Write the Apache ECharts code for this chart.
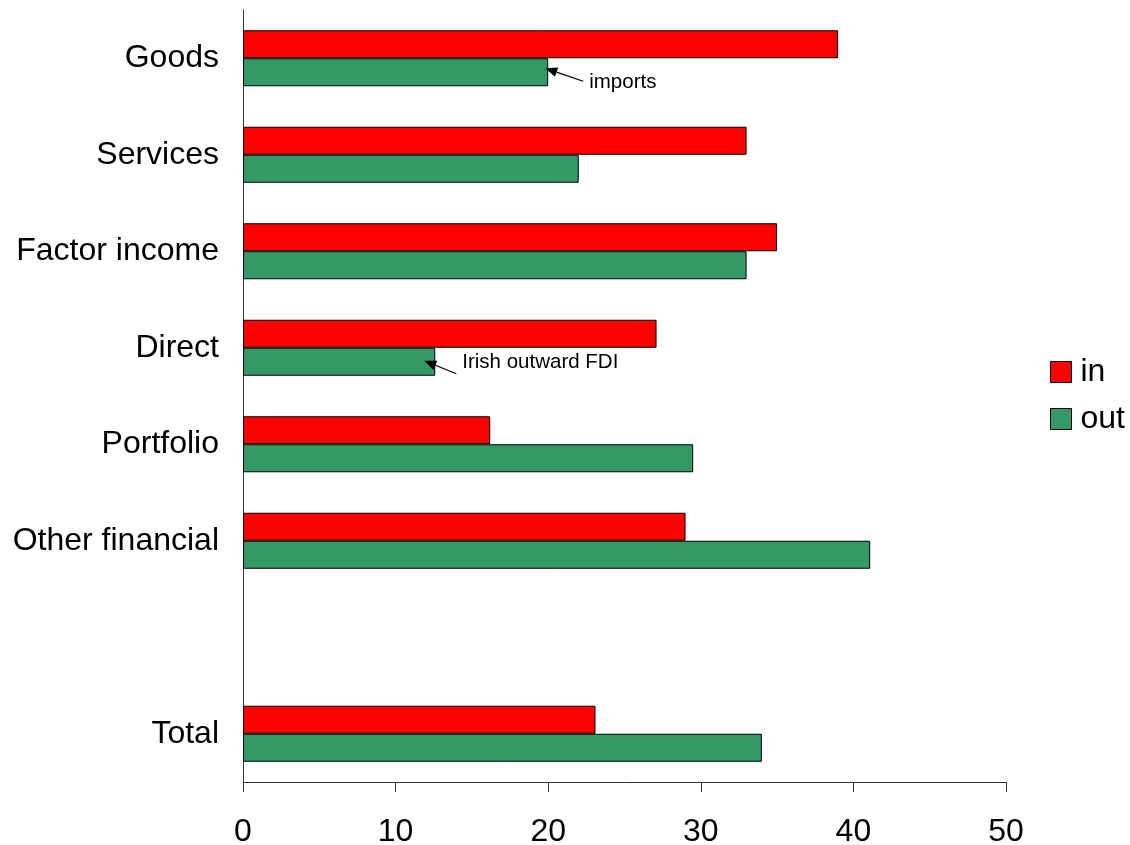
<!DOCTYPE html>
<html>
<head>
<meta charset="utf-8">
<script src="https://cdn.jsdelivr.net/npm/echarts@6/dist/echarts.min.js"></script>
<style>
  html, body { margin: 0; padding: 0; background: #fff; }
  #chart { width: 1130px; height: 845px; }
</style>
</head>
<body>
<div id="chart"></div>
<script>
// Categories, top to bottom; the empty entry leaves a gap before the total
const categories = ['Goods', 'Services', 'Factor income', 'Direct', 'Portfolio', 'Other financial', '', 'Total'];
const inValues  = [39.0, 33.0, 35.0, 27.1, 16.2, 29.0, '-', 23.1];
const outValues = [20.0, 22.0, 33.0, 12.6, 29.5, 41.1, '-', 34.0];
const xTicks = { min: 0, max: 50, interval: 10 };

// Callouts pointing at the end of an "out" bar
const noteCategories = ['Goods', 'Direct'];
const noteTexts = ['imports', 'Irish outward FDI'];

// Arrow geometry for each callout, in pixels relative to the bar end
const noteLayout = [
  { inset: 3,  dyTip: -4, dx: 38, dy: 13, textDy: 1 },
  { inset: 11, dyTip: -1, dx: 32, dy: 13, textDy: -11 }
];

const FONT = '"Liberation Sans", Arial, Helvetica, sans-serif';

const chart = echarts.init(document.getElementById('chart'), null, { renderer: 'canvas' });

chart.setOption({
  animation: false,
  backgroundColor: '#ffffff',
  textStyle: { fontFamily: FONT },
  grid: { left: 243, right: 124, top: 10, bottom: 63, containLabel: false, outerBoundsMode: 'none' },
  legend: {
    orient: 'vertical',
    left: 1050,
    top: 356,
    padding: 0,
    itemWidth: 21,
    itemHeight: 21,
    itemGap: 15,
    icon: 'rect',
    itemStyle: { borderColor: '#000', borderWidth: 1 },
    textStyle: { fontSize: 32, color: '#000', fontFamily: FONT, padding: [0, 0, 0, 4] },
    data: ['in', 'out']
  },
  xAxis: {
    type: 'value',
    min: xTicks.min,
    max: xTicks.max,
    interval: xTicks.interval,
    axisLine: { show: true, lineStyle: { color: '#333', width: 1 } },
    axisTick: { show: true, inside: false, length: 10, lineStyle: { color: '#333' } },
    axisLabel: { fontSize: 32, color: '#000', margin: 34, fontFamily: FONT },
    splitLine: { show: false }
  },
  yAxis: {
    type: 'category',
    inverse: true,
    data: categories,
    axisLine: { show: true, lineStyle: { color: '#333', width: 1 } },
    axisTick: { show: false },
    axisLabel: { fontSize: 32, color: '#000', margin: 24, fontFamily: FONT, padding: [4, 0, 0, 0] }
  },
  series: [
    {
      name: 'in',
      type: 'bar',
      data: inValues,
      barWidth: 28,
      barGap: '0%',
      itemStyle: { color: '#ff0000', borderColor: '#000', borderWidth: 1 }
    },
    {
      name: 'out',
      type: 'bar',
      data: outValues,
      barWidth: 28,
      barGap: '0%',
      itemStyle: { color: '#339966', borderColor: '#000', borderWidth: 1 }
    }
  ]
});

// Place the callout arrows from the axis scales
function drawNotes() {
  const elements = [];
  noteCategories.forEach(function (cat, i) {
    const lay = noteLayout[i];
    const idx = categories.indexOf(cat);
    const end = chart.convertToPixel({ gridIndex: 0 }, [outValues[idx], idx]);
    const barMid = end[1] + 14;                 // "out" bar sits below the band centre
    const tip = [end[0] - lay.inset, barMid + lay.dyTip];
    const tail = [tip[0] + lay.dx, tip[1] + lay.dy];
    const ang = Math.atan2(tail[1] - tip[1], tail[0] - tip[0]);
    const L = 12, W = 5;
    const bx = tip[0] + L * Math.cos(ang), by = tip[1] + L * Math.sin(ang);
    const px = -Math.sin(ang) * W, py = Math.cos(ang) * W;
    elements.push({
      type: 'line',
      shape: { x1: bx, y1: by, x2: tail[0], y2: tail[1] },
      style: { stroke: '#000', lineWidth: 1.3 },
      z: 100
    });
    elements.push({
      type: 'polygon',
      shape: { points: [tip, [bx + px, by + py], [bx - px, by - py]] },
      style: { fill: '#000' },
      z: 100
    });
    elements.push({
      type: 'text',
      x: tail[0] + 6,
      y: tail[1] + lay.textDy,
      style: {
        text: noteTexts[i], fill: '#000', fontSize: 20.5, fontFamily: FONT,
        verticalAlign: 'middle', align: 'left'
      },
      z: 100
    });
  });
  chart.setOption({ graphic: { elements: elements } });
}
drawNotes();
</script>
</body>
</html>
